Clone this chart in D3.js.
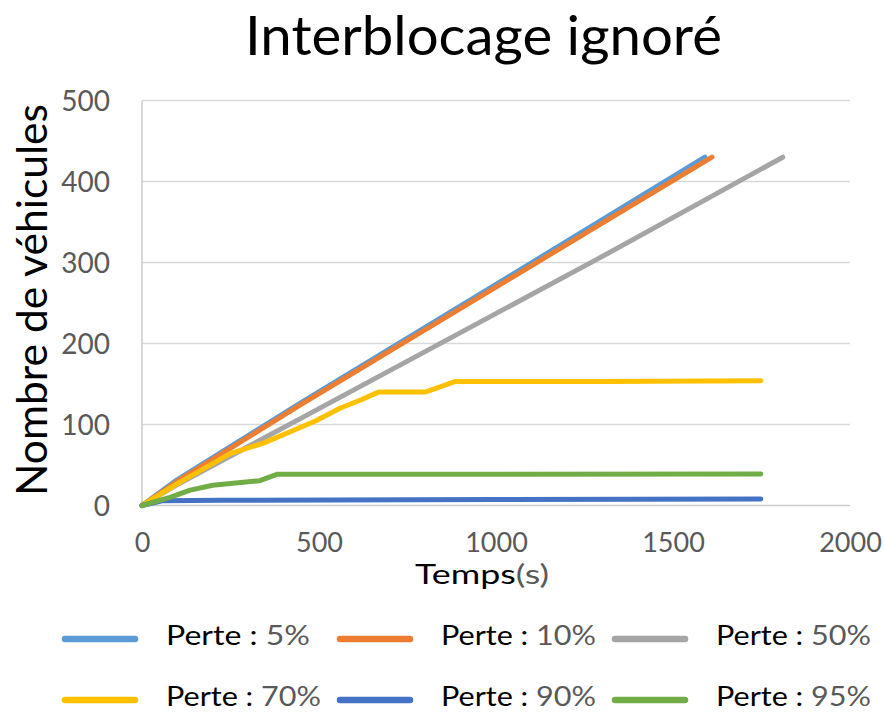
<!DOCTYPE html>
<html>
<head>
<meta charset="utf-8">
<script src="https://cdn.jsdelivr.net/npm/d3@7"></script>
<style>
  html, body { margin: 0; padding: 0; background: #ffffff; }
  svg { display: block; }
  text { font-family: Lato, "Open Sans", sans-serif; }
</style>
</head>
<body>
<svg id="chart" width="884" height="713"></svg>
<script>
// Vehicles counted over time for several packet-loss rates
const lossLabels = ["5%", "10%", "50%", "70%", "90%", "95%"];
const seriesColors = ["#5B9BD5", "#ED7D31", "#A5A5A5", "#FFC000", "#4472C4", "#70AD47"];

// [time (s), vehicles]
const loss5  = [[0,0],[100,32],[446,126],[1290,350],[1590,430]];
const loss10 = [[0,0],[100,30],[446,124],[1294,347],[1610,430]];
const loss50 = [[0,0],[100,26],[446,107],[1294,306],[1810,430]];
const loss70 = [[0,0],[100,27],[249,64],[343,77],[493,105],[559,120],[616,130],[668,140],[800,140],[884,153],[1300,153],[1748,154]];
const loss90 = [[0,0],[60,6],[220,6.5],[1000,7.5],[1748,8]];
const loss95 = [[0,0],[79,10],[136,19],[200,25],[333,30.6],[381,38.5],[1000,38.5],[1748,39]];
const seriesValues = [loss5, loss10, loss50, loss70, loss90, loss95];

const xTicks = [0, 500, 1000, 1500, 2000];
const yTicks = [0, 100, 200, 300, 400, 500];

const titleText = "Interblocage ignoré";
const yTitle = "Nombre de véhicules";
const xTitleMain = "Temps";
const xTitleUnit = "(s)";
const legendPrefix = "Perte : ";

const svg = d3.select("#chart");

const x = d3.scaleLinear().domain([0, 2000]).range([142, 850]);
const y = d3.scaleLinear().domain([0, 500]).range([505.5, 100.5]);

// Stretch a text element so its glyphs span the given width
function spanWidth(sel, width) {
  sel.attr("textLength", width).attr("lengthAdjust", "spacingAndGlyphs");
}

// Gridlines
svg.append("g")
  .selectAll("line")
  .data(yTicks.filter(d => d > 0))
  .join("line")
  .attr("x1", x(0)).attr("x2", x(2000))
  .attr("y1", d => y(d)).attr("y2", d => y(d))
  .attr("stroke", "#D9D9D9").attr("stroke-width", 1.5);

// Axis lines
svg.append("line")
  .attr("x1", x(0)).attr("x2", x(0)).attr("y1", y(500)).attr("y2", y(0))
  .attr("stroke", "#CCCCCC").attr("stroke-width", 1.5);
svg.append("line")
  .attr("x1", x(0)).attr("x2", x(2000)).attr("y1", y(0)).attr("y2", y(0))
  .attr("stroke", "#CCCCCC").attr("stroke-width", 1.5);

// Y tick labels
const yAxis = d3.axisLeft(y).tickValues(yTicks).tickFormat(d3.format("d")).tickSize(0).tickPadding(32);
const gy = svg.append("g").attr("transform", `translate(${x(0)},0)`).call(yAxis);
gy.select(".domain").remove();
gy.selectAll("text")
  .attr("font-family", "Lato, sans-serif")
  .attr("font-size", 28).attr("fill", "#595959")
  .attr("dy", "0.36em");

// X tick labels
const xAxis = d3.axisBottom(x).tickValues(xTicks).tickFormat(d3.format("d")).tickSize(0).tickPadding(0);
const gx = svg.append("g").attr("transform", `translate(0,${y(0)})`).call(xAxis);
gx.select(".domain").remove();
gx.selectAll("text")
  .attr("font-family", "Lato, sans-serif")
  .attr("font-size", 27).attr("fill", "#595959")
  .attr("y", 46).attr("dy", 0);

// Series lines
const line = d3.line().x(d => x(d[0])).y(d => y(d[1]));
svg.append("g")
  .selectAll("path")
  .data(seriesValues)
  .join("path")
  .attr("d", line)
  .attr("fill", "none")
  .attr("stroke", (d, i) => seriesColors[i])
  .attr("stroke-width", 5)
  .attr("stroke-linejoin", "round")
  .attr("stroke-linecap", "round");

// Title
svg.append("text")
  .attr("x", 245).attr("y", 55)
  .attr("font-size", 54).attr("fill", "#000")
  .text(titleText)
  .call(spanWidth, 477);

// Y axis title
svg.append("text")
  .attr("transform", "translate(47,300) rotate(-90)")
  .attr("x", -196).attr("y", 0)
  .attr("font-size", 42).attr("fill", "#000")
  .text(yTitle)
  .call(spanWidth, 392);

// X axis title
const xt = svg.append("text")
  .attr("x", 415).attr("y", 584)
  .attr("font-size", 27).attr("fill", "#000");
xt.append("tspan").text(xTitleMain);
xt.append("tspan").attr("fill", "#595959").text(xTitleUnit);
xt.call(spanWidth, 134);

// Legend, three entries per row
const legendX = [62, 337, 612];
const legendY = [639, 700];
const legend = svg.append("g");
lossLabels.forEach((lab, i) => {
  const col = i % 3, row = Math.floor(i / 3);
  const lx = legendX[col], ly = legendY[row];
  legend.append("line")
    .attr("x1", lx + 3).attr("x2", lx + 73)
    .attr("y1", ly).attr("y2", ly)
    .attr("stroke", seriesColors[i]).attr("stroke-width", 6.5)
    .attr("stroke-linecap", "round");
  const t = legend.append("text")
    .attr("x", lx + 104).attr("y", ly + 6)
    .attr("font-size", 27).attr("fill", "#000");
  t.append("tspan").text(legendPrefix);
  t.append("tspan").attr("fill", "#595959").text(lab);
  t.call(spanWidth, lab.length > 2 ? 155 : 144);
});
</script>
</body>
</html>
